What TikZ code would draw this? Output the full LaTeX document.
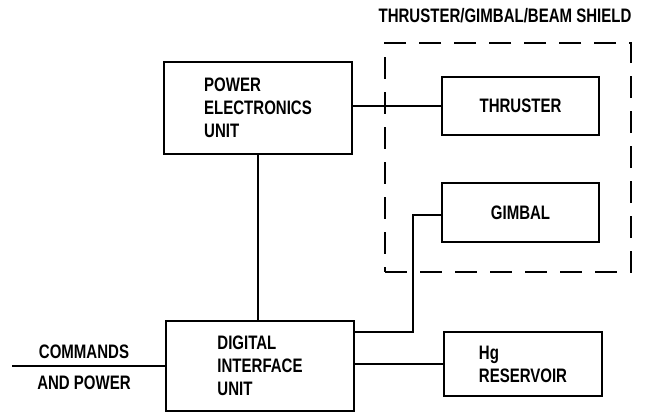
\documentclass[tikz,border=0pt]{standalone}
\usepackage{fontspec}
\setmainfont[FakeStretch=0.77]{Liberation Sans}
\begin{document}
\begin{tikzpicture}[x=1pt,y=-1pt,
  every node/.style={font=\bfseries\fontsize{19.5}{23}\selectfont},
  box/.style={draw, line width=2.6pt, align=left, inner sep=0pt},
  shieldbox/.style={draw, line width=2.6pt, dash pattern=on 22pt off 13pt, inner sep=0pt},
  wire/.style={line width=2.4pt},
  lbl/.style={inner sep=0pt}]
\useasboundingbox (0,0) rectangle (645,415);
\fill[white] (0,0) rectangle (645,415);
\node[shieldbox, minimum width=246pt, minimum height=229pt] (shield) at (508,157.5) {};
\node[lbl] (title) at (505,16) {THRUSTER/GIMBAL/BEAM SHIELD};
\node[box, minimum width=188pt, minimum height=92pt] (peu) at (258,108) {POWER\\ELECTRONICS\\UNIT};
\node[box, minimum width=157pt, minimum height=58pt] (thr) at (520.5,106) {THRUSTER};
\node[box, minimum width=157pt, minimum height=59pt] (gim) at (520.5,212.5) {GIMBAL};
\node[box, minimum width=188pt, minimum height=90pt] (diu) at (260,366) {DIGITAL\\INTERFACE\\UNIT};
\node[box, minimum width=158pt, minimum height=64pt] (hg) at (523,364) {Hg\\RESERVOIR};
\node[lbl] (cmd) at (84,352) {COMMANDS};
\node[lbl] (pwr) at (84,383) {AND POWER};
\coordinate (cin) at (12,366);
\coordinate (bend) at (413,215);
\coordinate (dj) at (353,332);
\draw[wire] (peu.east |- thr.west) -- (thr.west);
\draw[wire] (peu.south) -- (peu.south |- diu.north);
\draw[wire] (gim.west |- bend) -- (bend) |- (dj);
\draw[wire] (diu.east |- hg.west) -- (hg.west);
\draw[wire] (cin) -- (diu.west);
\end{tikzpicture}
\end{document}
